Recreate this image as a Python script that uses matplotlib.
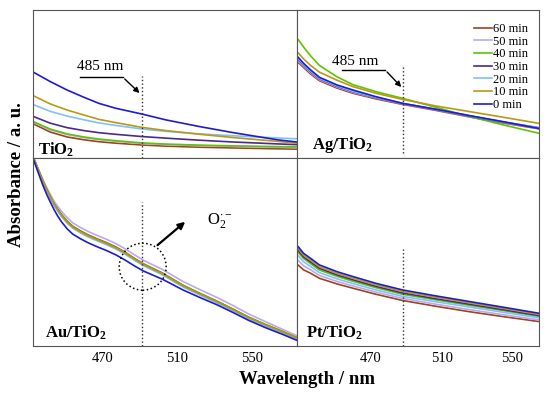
import matplotlib.pyplot as plt
from matplotlib.patches import Ellipse

plt.rcParams['font.family'] = ['Liberation Serif', 'DejaVu Serif']
plt.rcParams['mathtext.fontset'] = 'custom'
plt.rcParams['mathtext.rm'] = 'Liberation Serif'
plt.rcParams['mathtext.it'] = 'Liberation Serif:italic'
plt.rcParams['mathtext.bf'] = 'Liberation Serif:bold'

# series labels and colours
labels = ['60 min', '50 min', '40 min', '30 min', '20 min', '10 min', '0 min']
colors = ['#A0421C', '#B9A9F2', '#5EC400', '#4A2A8C', '#80C0FF', '#B89A12', '#1C1CD2']

# TiO2
wl_ti = [433, 442, 451, 460, 468, 477, 491, 504, 522, 540, 564, 574]
ti_60 = [0.23, 0.175, 0.142, 0.123, 0.11, 0.10, 0.088, 0.08, 0.073, 0.068, 0.062, 0.06]
ti_50 = [0.24, 0.19, 0.158, 0.138, 0.124, 0.113, 0.098, 0.09, 0.083, 0.078, 0.072, 0.07]
ti_40 = [0.245, 0.195, 0.163, 0.142, 0.128, 0.117, 0.102, 0.094, 0.087, 0.082, 0.077, 0.075]
ti_30 = [0.28, 0.235, 0.205, 0.185, 0.171, 0.16, 0.145, 0.134, 0.12, 0.108, 0.095, 0.09]
ti_20 = [0.36, 0.315, 0.283, 0.258, 0.237, 0.22, 0.196, 0.18, 0.163, 0.15, 0.135, 0.13]
ti_10 = [0.42, 0.365, 0.324, 0.29, 0.261, 0.239, 0.207, 0.185, 0.16, 0.138, 0.112, 0.10]
ti_0 = [0.579, 0.516, 0.459, 0.41, 0.369, 0.336, 0.297, 0.257, 0.212, 0.171, 0.122, 0.108]

# Ag/TiO2
wl_ag = [429, 432, 436, 441, 451, 460, 473, 488, 507, 526, 545, 565]
ag_60 = [0.645, 0.612, 0.567, 0.522, 0.472, 0.437, 0.399, 0.362, 0.321, 0.277, 0.236, 0.197]
ag_50 = [0.655, 0.62, 0.575, 0.529, 0.479, 0.443, 0.405, 0.366, 0.325, 0.281, 0.24, 0.201]
ag_40 = [0.80, 0.75, 0.69, 0.625, 0.548, 0.495, 0.448, 0.403, 0.342, 0.279, 0.223, 0.167]
ag_30 = [0.665, 0.628, 0.582, 0.535, 0.484, 0.448, 0.408, 0.368, 0.327, 0.283, 0.242, 0.204]
ag_20 = [0.67, 0.632, 0.586, 0.538, 0.487, 0.45, 0.41, 0.369, 0.328, 0.285, 0.244, 0.205]
ag_10 = [0.71, 0.67, 0.625, 0.58, 0.525, 0.482, 0.437, 0.396, 0.351, 0.313, 0.275, 0.234]
ag_0 = [0.68, 0.64, 0.595, 0.545, 0.493, 0.459, 0.414, 0.369, 0.329, 0.286, 0.245, 0.20]

# Au/TiO2
wl_au = [433, 435.5, 438, 440, 442, 444, 446, 448, 451, 454, 458, 462, 467, 472, 477,
         482, 487, 492, 502, 513, 522, 531, 540, 548, 557, 566, 574]
au_60 = [1.0, 0.94, 0.881, 0.838, 0.798, 0.76, 0.728, 0.699, 0.664, 0.637, 0.613, 0.592, 0.57, 0.55,
         0.527, 0.499, 0.466, 0.436, 0.388, 0.323, 0.28, 0.239, 0.195, 0.154, 0.115, 0.079, 0.045]
au_50 = [1.0, 0.94, 0.884, 0.843, 0.806, 0.77, 0.742, 0.716, 0.682, 0.655, 0.631, 0.61, 0.588, 0.568,
         0.545, 0.517, 0.485, 0.455, 0.407, 0.343, 0.30, 0.259, 0.214, 0.171, 0.13, 0.09, 0.054]
au_40 = [1.0, 0.939, 0.878, 0.834, 0.794, 0.756, 0.724, 0.696, 0.661, 0.634, 0.61, 0.589, 0.567, 0.547,
         0.524, 0.496, 0.464, 0.434, 0.386, 0.322, 0.279, 0.238, 0.194, 0.153, 0.114, 0.078, 0.044]
au_30 = [1.0, 0.935, 0.874, 0.83, 0.79, 0.752, 0.72, 0.692, 0.657, 0.63, 0.606, 0.585, 0.563, 0.543,
         0.52, 0.492, 0.46, 0.43, 0.382, 0.318, 0.275, 0.234, 0.19, 0.149, 0.11, 0.074, 0.04]
au_20 = [1.0, 0.932, 0.87, 0.826, 0.786, 0.748, 0.716, 0.688, 0.653, 0.626, 0.602, 0.581, 0.559, 0.539,
         0.516, 0.488, 0.456, 0.426, 0.378, 0.314, 0.271, 0.23, 0.186, 0.145, 0.106, 0.07, 0.036]
au_10 = [1.0, 0.937, 0.876, 0.832, 0.792, 0.754, 0.722, 0.694, 0.659, 0.632, 0.608, 0.587, 0.565, 0.545,
         0.522, 0.494, 0.462, 0.432, 0.384, 0.32, 0.277, 0.236, 0.192, 0.151, 0.112, 0.076, 0.042]
au_0 = [0.99, 0.922, 0.855, 0.807, 0.765, 0.725, 0.69, 0.66, 0.623, 0.595, 0.571, 0.55, 0.528, 0.508,
        0.485, 0.457, 0.426, 0.398, 0.355, 0.298, 0.258, 0.22, 0.177, 0.137, 0.098, 0.063, 0.03]

# Pt/TiO2
wl_pt = [429, 432, 436, 441, 451, 460, 473, 488, 507, 526, 545, 565]
pt_60 = [0.43, 0.405, 0.387, 0.36, 0.33, 0.307, 0.275, 0.242, 0.211, 0.182, 0.156, 0.13]
pt_50 = [0.455, 0.427, 0.405, 0.375, 0.343, 0.319, 0.286, 0.253, 0.222, 0.193, 0.166, 0.139]
pt_40 = [0.498, 0.465, 0.438, 0.404, 0.37, 0.344, 0.31, 0.275, 0.245, 0.216, 0.188, 0.157]
pt_30 = [0.508, 0.474, 0.447, 0.413, 0.378, 0.352, 0.317, 0.282, 0.251, 0.222, 0.193, 0.162]
pt_20 = [0.48, 0.448, 0.423, 0.39, 0.357, 0.332, 0.298, 0.264, 0.235, 0.207, 0.179, 0.15]
pt_10 = [0.518, 0.483, 0.456, 0.421, 0.386, 0.36, 0.325, 0.29, 0.259, 0.229, 0.20, 0.168]
pt_0 = [0.528, 0.493, 0.466, 0.431, 0.395, 0.369, 0.333, 0.298, 0.266, 0.236, 0.206, 0.174]

xticks = [470, 510, 550]

fig = plt.figure(figsize=(5.5, 3.98), dpi=100)
W, H = 550, 398


def box(x0, y0, x1, y1):
    # pixel box -> figure fraction
    return [x0 / W, 1 - y1 / H, (x1 - x0) / W, (y1 - y0) / H]


ax_ti = fig.add_axes(box(33, 10, 297, 158))
ax_ag = fig.add_axes(box(297, 10, 539, 158))
ax_au = fig.add_axes(box(33, 158, 297, 346))
ax_pt = fig.add_axes(box(297, 158, 539, 346))

panels = [
    (ax_ti, wl_ti, [ti_60, ti_50, ti_40, ti_30, ti_20, ti_10, ti_0], (432.7, 574)),
    (ax_ag, wl_ag, [ag_60, ag_50, ag_40, ag_30, ag_20, ag_10, ag_0], (428.3, 565)),
    (ax_au, wl_au, [au_60, au_50, au_40, au_30, au_20, au_10, au_0], (432.7, 574)),
    (ax_pt, wl_pt, [pt_60, pt_50, pt_40, pt_30, pt_20, pt_10, pt_0], (428.3, 565)),
]

for ax, wl, series, xl in panels:
    for ys, c, lab in zip(series, colors, labels):
        ax.plot(wl, ys, color=c, lw=1.2, label=lab)
    ax.set_xlim(*xl)
    ax.set_ylim(0, 1)
    ax.set_yticks([])
    ax.set_xticks(xticks)
    ax.tick_params(axis='x', length=0, labelsize=10.5, pad=4)
    for s in ax.spines.values():
        s.set_color('#555555')
        s.set_linewidth(0.8)

ax_ti.tick_params(labelbottom=False)
ax_ag.tick_params(labelbottom=False)

# dotted markers at 485 nm
ax_ti.axvline(490.8, ymin=0, ymax=0.554, color='#333333', ls=':', lw=1)
ax_ag.axvline(488.3, ymin=0.034, ymax=0.615, color='#333333', ls=':', lw=1)
ax_au.axvline(490.8, ymin=0, ymax=0.766, color='#333333', ls=':', lw=1)
ax_pt.axvline(488.3, ymin=0, ymax=0.52, color='#333333', ls=':', lw=1)

# 485 nm callouts
ax_ti.text(468.4, 0.615, '485 nm', ha='center', va='center', fontsize=11)
ax_ti.plot([457.8, 480.7], [0.547, 0.547], color='k', lw=1)
ax_ti.annotate('', xy=(490.8, 0.426), xytext=(480.7, 0.547),
               arrowprops=dict(arrowstyle='-|>', color='k', lw=1, mutation_scale=8))
ax_ag.text(461.1, 0.655, '485 nm', ha='center', va='center', fontsize=11)
ax_ag.plot([453.8, 478.1], [0.595, 0.595], color='k', lw=1)
ax_ag.annotate('', xy=(488.3, 0.466), xytext=(478.1, 0.595),
               arrowprops=dict(arrowstyle='-|>', color='k', lw=1, mutation_scale=8))

# O2- circle
circ = Ellipse((142.7 / W, 1 - 266.7 / H), 47 / W, 47 / H, transform=fig.transFigure,
               fill=False, ls=':', lw=1.1, ec='k')
fig.add_artist(circ)
ax_au.annotate('', xy=(515.3, 0.67), xytext=(498.2, 0.527),
               arrowprops=dict(arrowstyle='-|>', color='k', lw=1.6, mutation_scale=10))
ax_au.text(526, 0.67, r'O$_2^{\cdot-}$', ha='left', va='center', fontsize=12)

# panel labels
ax_ti.text(435.4, 0.054, r'TiO$_\mathbf{2}$', fontsize=12, fontweight='bold', va='center')
ax_ag.text(436.8, 0.088, r'Ag/TiO$_\mathbf{2}$', fontsize=12, fontweight='bold', va='center')
ax_au.text(439, 0.07, r'Au/TiO$_\mathbf{2}$', fontsize=12, fontweight='bold', va='center')
ax_pt.text(433.4, 0.07, r'Pt/TiO$_\mathbf{2}$', fontsize=12, fontweight='bold', va='center')

ax_ag.legend(loc='upper right', bbox_to_anchor=(0.99, 0.97), frameon=False, fontsize=9,
             handlelength=1.4, handletextpad=0.1, labelspacing=0.05, borderpad=0.2)

fig.text(17 / W, 1 - 175 / H, 'Absorbance / a. u.', rotation=90, ha='center', va='center',
         fontsize=13.5, fontweight='bold')
fig.text(307 / W, 1 - 380 / H, 'Wavelength / nm', ha='center', va='center',
         fontsize=13.5, fontweight='bold')

fig.savefig('out.png', dpi=100)
